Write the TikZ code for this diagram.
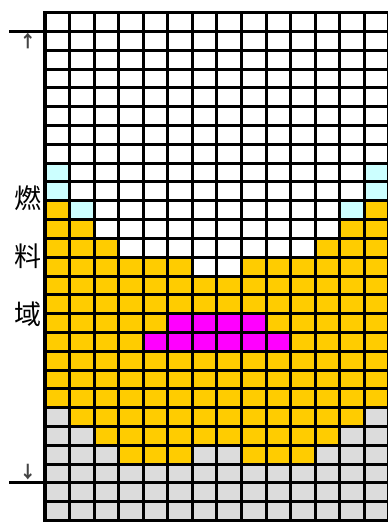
\documentclass[tikz,border=0pt]{standalone}
\usepackage{fontspec}
\newfontfamily\cjk{Noto Sans CJK JP}
\definecolor{cellW}{HTML}{FFFFFF}
\definecolor{cellC}{HTML}{CCFFFF}
\definecolor{cellO}{HTML}{FFCC00}
\definecolor{cellM}{HTML}{FF00FF}
\definecolor{cellG}{HTML}{DCDCDC}
\definecolor{arrowgray}{HTML}{444444}
\begin{document}
\begin{tikzpicture}[x=1pt,y=-1pt,
  gridline/.style={line width=3pt,black},
  border/.style={line width=4pt,black},
  label/.style={font=\cjk\fontsize{27}{27}\selectfont,inner sep=0pt,anchor=center},
  arrowlabel/.style={font=\cjk\bfseries\fontsize{17}{17}\selectfont,text=arrowgray,inner sep=0pt,anchor=center}]
\useasboundingbox (0,0) rectangle (388,522);
\def\xo{45}\def\yo{12.7}\def\cw{24.57}\def\ch{18.81}
\foreach \rowspec [count=\r from 0] in {
 {W,W,W,W,W,W,W,W,W,W,W,W,W,W},
 {W,W,W,W,W,W,W,W,W,W,W,W,W,W},
 {W,W,W,W,W,W,W,W,W,W,W,W,W,W},
 {W,W,W,W,W,W,W,W,W,W,W,W,W,W},
 {W,W,W,W,W,W,W,W,W,W,W,W,W,W},
 {W,W,W,W,W,W,W,W,W,W,W,W,W,W},
 {W,W,W,W,W,W,W,W,W,W,W,W,W,W},
 {W,W,W,W,W,W,W,W,W,W,W,W,W,W},
 {C,W,W,W,W,W,W,W,W,W,W,W,W,C},
 {C,W,W,W,W,W,W,W,W,W,W,W,W,C},
 {O,C,W,W,W,W,W,W,W,W,W,W,C,O},
 {O,O,W,W,W,W,W,W,W,W,W,W,O,O},
 {O,O,O,W,W,W,W,W,W,W,W,O,O,O},
 {O,O,O,O,O,O,W,W,O,O,O,O,O,O},
 {O,O,O,O,O,O,O,O,O,O,O,O,O,O},
 {O,O,O,O,O,O,O,O,O,O,O,O,O,O},
 {O,O,O,O,O,M,M,M,M,O,O,O,O,O},
 {O,O,O,O,M,M,M,M,M,M,O,O,O,O},
 {O,O,O,O,O,O,O,O,O,O,O,O,O,O},
 {O,O,O,O,O,O,O,O,O,O,O,O,O,O},
 {O,O,O,O,O,O,O,O,O,O,O,O,O,O},
 {G,O,O,O,O,O,O,O,O,O,O,O,O,G},
 {G,G,O,O,O,O,O,O,O,O,O,O,G,G},
 {G,G,G,O,O,O,G,G,O,O,O,G,G,G},
 {G,G,G,G,G,G,G,G,G,G,G,G,G,G},
 {G,G,G,G,G,G,G,G,G,G,G,G,G,G},
 {G,G,G,G,G,G,G,G,G,G,G,G,G,G}} {
  \foreach \cc [count=\k from 0] in \rowspec {
    \fill[cell\cc] ({\xo+\k*\cw},{\yo+\r*\ch}) rectangle ++(\cw,\ch);
  }
}
\foreach \k in {1,...,14}
  \draw[gridline] ({\xo+\k*\cw},\yo) -- ({\xo+\k*\cw},{\yo+27*\ch});
\foreach \r in {0,...,27}
  \draw[gridline] (\xo,{\yo+\r*\ch}) -- ({\xo+14*\cw+2},{\yo+\r*\ch});
\draw[border] (\xo,{\yo-1.5}) -- (\xo,{\yo+27*\ch+1.5});
% side markers
\coordinate (topL) at (9,31.7);
\coordinate (topR) at (\xo,31.7);
\coordinate (botL) at (9,482.3);
\coordinate (botR) at (\xo,482.3);
\draw[gridline] (topL) -- (topR);
\draw[gridline] (botL) -- (botR);
\node[arrowlabel] (up) at (28,40.5) {↑};
\node[arrowlabel] (down) at (28,472) {↓};
\node[label] (t1) at (28,198) {燃};
\node[label] (t2) at (28,256) {料};
\node[label] (t3) at (28,314) {域};
\end{tikzpicture}
\end{document}
